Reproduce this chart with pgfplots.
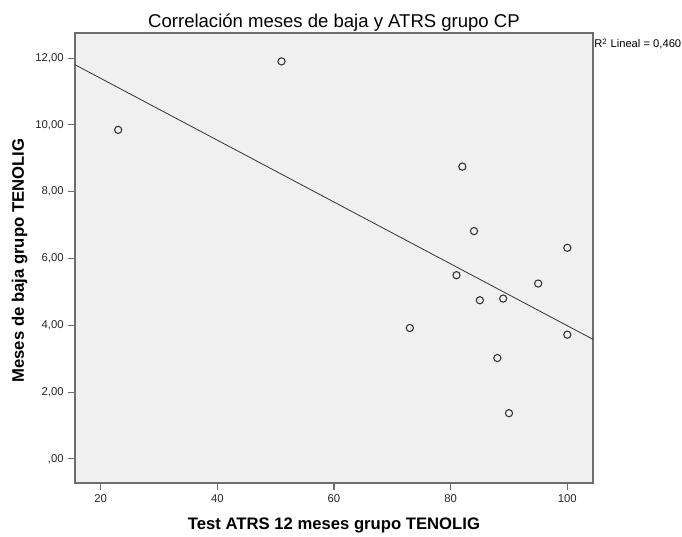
\documentclass[border=0pt]{standalone}
\usepackage{pgfplots}
\pgfplotsset{compat=1.18}
\usepackage{fontspec}
\setmainfont{Liberation Sans}
\usetikzlibrary{calc}

\definecolor{spssBg}{RGB}{240,240,240}
\definecolor{spssFrame}{RGB}{110,110,110}
\definecolor{spssMark}{RGB}{50,50,50}

\begin{document}
\begin{tikzpicture}
\begin{axis}[
  scale only axis,
  width=388.5pt, height=337.5pt,
  xmin=15.6, xmax=104.4,
  ymin=-0.72, ymax=12.75,
  axis background/.style={fill=spssBg},
  axis line style={spssFrame, line width=0.9pt},
  xtick={20,40,60,80,100},
  ytick={0,2,4,6,8,10,12},
  yticklabels={{,00},{2,00},{4,00},{6,00},{8,00},{10,00},{12,00}},
  tick align=outside,
  xtick pos=bottom, ytick pos=left,
  major tick length=5pt,
  tick style={spssFrame, line width=0.8pt},
  ticklabel style={font=\fontsize{8.5}{10}\selectfont, text=black!85},
  /pgf/number format/assume math mode=true,
  clip=false,
]

% linea de ajuste (R2 lineal = 0,460)
\addplot[black!80, line width=0.6pt] coordinates {(15.6,11.80) (104.4,3.58)};

% puntos observados
\addplot[only marks, mark=o, mark size=2.7pt,
  mark options={spssMark, line width=0.8pt}] coordinates {
  (23,9.85) (51,11.9) (82,8.75) (84,6.82) (100,6.32) (81,5.50)
  (95,5.25) (85,4.75) (89,4.80) (73,3.92) (100,3.72) (88,3.02) (90,1.37)
};

% titulo y etiquetas
\node[anchor=base, font=\fontsize{13.9}{16}\selectfont, yshift=4.2pt]
  at (axis description cs:0.5,1) {Correlación meses de baja y ATRS grupo CP};
\node[anchor=base west, font=\fontsize{8.4}{10}\selectfont, inner sep=0pt, yshift=-11.25pt, xshift=0.8pt]
  at (axis description cs:1,1) {R\textsuperscript{2} Lineal = 0,460};
\node[anchor=base, font=\bfseries\fontsize{12.5}{14}\selectfont, yshift=-35pt]
  at (axis description cs:0.5,0) {Test ATRS 12 meses grupo TENOLIG};
\node[anchor=base, font=\bfseries\fontsize{12.5}{14}\selectfont, rotate=90]
  at ([xshift=-38.25pt,yshift=-2pt]axis description cs:0,0.5) {Meses de baja grupo TENOLIG};
\end{axis}
\pgfresetboundingbox
\path ($(current axis.south west)+(-56.25pt,-40.5pt)$) rectangle ($(current axis.north east)+(66.75pt,24.75pt)$);
\end{tikzpicture}
\end{document}
